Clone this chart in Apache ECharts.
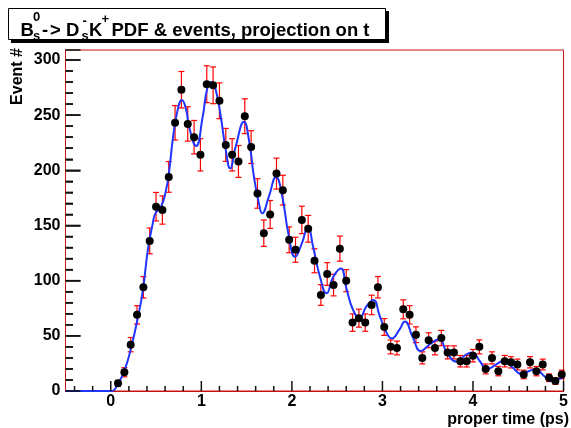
<!DOCTYPE html>
<html>
<head>
<meta charset="utf-8">
<script src="https://cdn.jsdelivr.net/npm/echarts@6/dist/echarts.min.js"></script>
<style>
  html, body { margin: 0; padding: 0; background: #ffffff; }
  #chart { width: 571px; height: 428px; }
</style>
</head>
<body>
<div id="chart"></div>
<script>
// Proper-time bins (ps) and event counts per bin
const binCenters = [
  0.08, 0.15, 0.22, 0.29, 0.36, 0.43, 0.50, 0.57, 0.64, 0.71,
  0.78, 0.85, 0.92, 0.99, 1.06, 1.13, 1.20, 1.27, 1.34, 1.41,
  1.48, 1.55, 1.62, 1.69, 1.76, 1.83, 1.90, 1.97, 2.04, 2.11,
  2.18, 2.25, 2.32, 2.39, 2.46, 2.53, 2.60, 2.67, 2.74, 2.81,
  2.88, 2.95, 3.02, 3.09, 3.16, 3.23, 3.30, 3.37, 3.44, 3.51,
  3.58, 3.65, 3.72, 3.79, 3.86, 3.93, 4.00, 4.07, 4.14, 4.21,
  4.28, 4.35, 4.42, 4.49, 4.56, 4.63, 4.70, 4.77, 4.84, 4.91,
  4.98
];
const eventCounts = [
  7, 17, 42, 69, 94, 136, 167, 164, 194, 243,
  273, 242, 230, 214, 278, 277, 263, 223, 214, 208,
  249, 221, 179, 143, 160, 197, 182, 137, 128, 155,
  147, 118, 87, 106, 96, 129, 100, 62, 66, 62,
  78, 94, 58, 40, 39, 74, 69, 51, 30, 46,
  39, 48, 35, 35, 27, 27, 32, 40, 20, 30,
  18, 27, 26, 24, 15, 26, 18, 24, 12, 9,
  15
];

// PDF projection on t
const pdfT = [
  -0.5, 0.0, 0.081, 0.153, 0.227, 0.300, 0.355, 0.409, 0.464, 0.493,
  0.555, 0.610, 0.646, 0.683, 0.738, 0.785, 0.829, 0.869, 0.942, 1.015,
  1.070, 1.117, 1.160, 1.215, 1.270, 1.318, 1.379, 1.471, 1.526, 1.581,
  1.636, 1.672, 1.745, 1.825, 1.891, 1.964, 2.036, 2.110, 2.175, 2.238,
  2.310, 2.383, 2.457, 2.540, 2.602, 2.676, 2.748, 2.821, 2.901, 2.967,
  3.040, 3.103, 3.186, 3.248, 3.333, 3.424, 3.514, 3.624, 3.716, 3.825,
  3.916, 3.990, 4.080, 4.154, 4.245, 4.335, 4.427, 4.537, 4.628, 4.701,
  4.773, 4.865, 4.938, 5.0
];
const pdfValues = [
  0, 0, 7, 19, 40, 67, 91.5, 127.7, 151.9, 161,
  167, 182, 200, 227, 254.5, 263.6, 256, 238, 222, 248.5,
  275.6, 280, 272.6, 248.5, 218.3, 201.7, 221.3, 243.9, 227.4, 194,
  170, 161, 176, 194, 177.5, 141.3, 121.6, 133.8, 148.3, 129.3,
  103.5, 88.5, 103.5, 111.1, 93, 73.4, 65.9, 76.4, 82.4, 68.8,
  53.7, 47.7, 55.3, 63, 49.2, 36.2, 41.7, 46.8, 34.1, 26.5,
  32.6, 35, 26.5, 19.7, 23.5, 27.2, 22, 15.4, 18.4, 19.7,
  14.5, 9.1, 10.6, 12.4
];

// Axis tick values
const xMajorTicks = [0, 1, 2, 3, 4, 5];
const xMinorTicks = [-0.4, -0.2, 0.2, 0.4, 0.6, 0.8, 1.2, 1.4, 1.6, 1.8, 2.2, 2.4, 2.6, 2.8,
                     3.2, 3.4, 3.6, 3.8, 4.2, 4.4, 4.6, 4.8];
const yMajorTicks = [0, 50, 100, 150, 200, 250, 300];
const yMinorTicks = [10, 20, 30, 40, 60, 70, 80, 90, 110, 120, 130, 140, 160, 170, 180, 190,
                     210, 220, 230, 240, 260, 270, 280, 290];

const X_MIN = -0.5, X_MAX = 5, Y_MIN = 0, Y_MAX = 309;
const FONT = '"Liberation Sans", Arial, Helvetica, sans-serif';
const frameColor = '#c81010';
const tickColor = '#111111';

const dataPoints = binCenters.map((t, i) => [t, eventCounts[i]]);
// Poisson uncertainty on each bin count
const errorData = binCenters.map((t, i) => [t, eventCounts[i], Math.sqrt(eventCounts[i])]);
const pdfLine = pdfT.map((t, i) => [t, pdfValues[i]]);

// Inward tick marks drawn through the cartesian coordinate system
function xTickSeries(values, len) {
  return {
    type: 'custom', z: 6, silent: true,
    data: values.map(v => [v, Y_MIN]),
    renderItem: function (params, api) {
      const p = api.coord([api.value(0), api.value(1)]);
      return { type: 'line', shape: { x1: p[0], y1: p[1], x2: p[0], y2: p[1] - len },
               style: { stroke: tickColor, lineWidth: 1.5 } };
    }
  };
}
function yTickSeries(values, len) {
  return {
    type: 'custom', z: 6, silent: true,
    data: values.map(v => [X_MIN, v]),
    renderItem: function (params, api) {
      const p = api.coord([api.value(0), api.value(1)]);
      return { type: 'line', shape: { x1: p[0], y1: p[1], x2: p[0] + len, y2: p[1] },
               style: { stroke: tickColor, lineWidth: 1.5 } };
    }
  };
}

const chart = echarts.init(document.getElementById('chart'), null, { renderer: 'canvas' });

function titleText(text, x, y, size) {
  return {
    type: 'text', z: 20,
    style: {
      text: text, x: x, y: y,
      fontFamily: FONT, fontWeight: 'bold', fontSize: size,
      fill: '#000', align: 'left', verticalAlign: 'middle'
    }
  };
}

const option = {
  backgroundColor: '#ffffff',
  animation: false,
  grid: {
    left: 65.5, right: 1, top: 50, bottom: 37,
    show: true, borderColor: frameColor, borderWidth: 1
  },
  xAxis: {
    type: 'value', min: X_MIN, max: X_MAX,
    axisLine: { show: true, onZero: false, lineStyle: { color: frameColor, width: 1 } },
    axisTick: { show: false },
    axisLabel: { show: true, customValues: xMajorTicks, margin: 3,
                 fontFamily: FONT, fontWeight: 'bold', fontSize: 16, color: '#000' },
    splitLine: { show: false }
  },
  yAxis: {
    type: 'value', min: Y_MIN, max: Y_MAX, interval: 50,
    axisLine: { show: true, onZero: false, lineStyle: { color: frameColor, width: 1 } },
    axisTick: { show: true, inside: true, length: 15, lineStyle: { color: tickColor, width: 1.5 } },
    minorTick: { show: true, splitNumber: 5, length: 7.5, lineStyle: { color: tickColor, width: 1.5 } },
    axisLabel: { show: true, margin: 5,
                 fontFamily: FONT, fontWeight: 'bold', fontSize: 16, color: '#000' },
    splitLine: { show: false }
  },
  series: [
    xTickSeries(xMajorTicks, 10),
    xTickSeries(xMinorTicks, 5),
    yTickSeries(yMajorTicks, 15),
    yTickSeries(yMinorTicks, 7.5),
    {
      name: 'errors',
      type: 'custom',
      z: 3,
      data: errorData,
      renderItem: function (params, api) {
        const t = api.value(0), n = api.value(1), e = api.value(2);
        const hi = api.coord([t, n + e]);
        const lo = api.coord([t, Math.max(0, n - e)]);
        const cap = 3;
        const st = { stroke: '#ff0000', lineWidth: 1.2 };
        return {
          type: 'group',
          children: [
            { type: 'line', shape: { x1: hi[0], y1: hi[1], x2: lo[0], y2: lo[1] }, style: st },
            { type: 'line', shape: { x1: hi[0] - cap, y1: hi[1], x2: hi[0] + cap, y2: hi[1] }, style: st },
            { type: 'line', shape: { x1: lo[0] - cap, y1: lo[1], x2: lo[0] + cap, y2: lo[1] }, style: st }
          ]
        };
      }
    },
    {
      name: 'PDF',
      type: 'line',
      z: 4,
      data: pdfLine,
      showSymbol: false,
      smooth: 0.5,
      lineStyle: { color: '#1f35ff', width: 2 },
      clip: true
    },
    {
      name: 'events',
      type: 'scatter',
      z: 5,
      data: dataPoints,
      symbol: 'circle',
      symbolSize: 8,
      itemStyle: { color: '#000000', opacity: 1 }
    }
  ],
  graphic: [
    // Title box with drop shadow
    { type: 'rect', z: 10, shape: { x: 11, y: 11, width: 378, height: 32 }, style: { fill: '#000' } },
    { type: 'rect', z: 11, shape: { x: 8.5, y: 8.5, width: 377, height: 31 },
      style: { fill: '#fff', stroke: '#000', lineWidth: 1 } },
    titleText('B', 20.5, 30.5, 18.5),
    titleText('0', 33, 17, 13),
    titleText('s', 33, 36.5, 13),
    titleText('-', 42, 30.5, 18.5),
    titleText('>', 50, 30.5, 18.5),
    titleText('D', 66, 30.5, 18.5),
    titleText('s', 81.5, 36.5, 13),
    titleText('-', 82.5, 21.5, 13),
    titleText('K', 89, 30.5, 18.5),
    titleText('+', 101.5, 19, 13),
    titleText('PDF & events, projection on t', 111.5, 30.5, 18.5),
    // Axis titles
    {
      type: 'text', z: 20, x: 17.5, y: 48, rotation: Math.PI / 2,
      style: { text: 'Event #', x: 0, y: 0, fontFamily: FONT, fontWeight: 'bold', fontSize: 16,
               fill: '#000', align: 'right', verticalAlign: 'middle' }
    },
    {
      type: 'text', z: 20,
      style: { text: 'proper time (ps)', x: 569, y: 420, fontFamily: FONT, fontWeight: 'bold', fontSize: 16,
               fill: '#000', align: 'right', verticalAlign: 'middle' }
    }
  ]
};

chart.setOption(option);
</script>
</body>
</html>
